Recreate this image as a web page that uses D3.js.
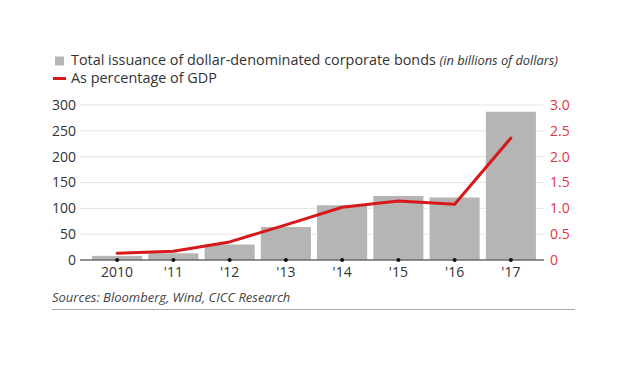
<!DOCTYPE html>
<html><head><meta charset="utf-8">
<script src="https://cdn.jsdelivr.net/npm/d3@7"></script>
<style>
html,body{margin:0;padding:0;background:#fff;}
svg{display:block;font-family:"Open Sans", Lato, sans-serif;}
</style></head>
<body>
<svg id="chart" width="640" height="378"></svg>
<script>
const categories = ["2010","'11","'12","'13","'14","'15","'16","'17"];
const issuance = [8, 13, 30, 64, 106, 124, 121, 287];
const pctGDP = [0.13, 0.17, 0.35, 0.68, 1.02, 1.14, 1.08, 2.36];
const leftTicks = [0, 50, 100, 150, 200, 250, 300];
const rightTicks = [0, 0.5, 1.0, 1.5, 2.0, 2.5, 3.0];

const svg = d3.select("#chart");
const x = d3.scaleBand().domain(categories).range([89, 539]).paddingInner(0.11).paddingOuter(0.055);
const yL = d3.scaleLinear().domain([0, 300]).range([260, 105]);
const yR = d3.scaleLinear().domain([0, 3]).range([260, 105]);

// gridlines
svg.append("g").selectAll("line").data(leftTicks.filter(d => d > 0)).join("line")
  .attr("x1", 80).attr("x2", 543)
  .attr("y1", d => yL(d)).attr("y2", d => yL(d))
  .attr("stroke", "#e3e3e3").attr("stroke-width", 1);

// bars
svg.append("g").selectAll("rect").data(categories).join("rect")
  .attr("x", d => x(d)).attr("width", x.bandwidth())
  .attr("y", (d, i) => yL(issuance[i]))
  .attr("height", (d, i) => yL(0) - yL(issuance[i]))
  .attr("fill", "#b5b5b5");

// baseline
svg.append("line").attr("x1", 80).attr("x2", 544).attr("y1", 260).attr("y2", 260)
  .attr("stroke", "#6b6b6b").attr("stroke-width", 1.3);

// tick dots
svg.append("g").selectAll("circle").data(categories).join("circle")
  .attr("cx", d => x(d) + x.bandwidth() / 2).attr("cy", 260).attr("r", 2)
  .attr("fill", "#111");

const tickFont = "'Open Sans', sans-serif";
// left axis
const leftAxis = d3.axisLeft(yL).tickValues(leftTicks).tickSize(0).tickPadding(0);
const gL = svg.append("g").attr("transform", "translate(76,0)").call(leftAxis);
gL.select(".domain").remove();
gL.selectAll("text").attr("fill", "#333").attr("font-size", 14).attr("font-family", tickFont);

// right axis
const rightAxis = d3.axisRight(yR).tickValues(rightTicks).tickSize(0).tickPadding(0)
  .tickFormat(d => d === 0 ? "0" : d3.format(".1f")(d));
const gR = svg.append("g").attr("transform", "translate(550,0)").call(rightAxis);
gR.select(".domain").remove();
gR.selectAll("text").attr("fill", "#e0353b").attr("font-size", 14).attr("font-family", tickFont);

// bottom axis labels
const bottomAxis = d3.axisBottom(x).tickSize(0).tickPadding(0);
const gB = svg.append("g").attr("transform", "translate(0,267)").call(bottomAxis);
gB.select(".domain").remove();
gB.selectAll("text").attr("fill", "#333").attr("font-size", 14).attr("font-family", tickFont);

// line
const line = d3.line()
  .x((d, i) => x(categories[i]) + x.bandwidth() / 2)
  .y(d => yR(d))
  .curve(d3.curveLinear);
svg.append("path").datum(pctGDP).attr("d", line)
  .attr("fill", "none").attr("stroke", "#d7191c").attr("stroke-width", 3)
  .attr("stroke-linejoin", "round").attr("stroke-linecap", "round");

// legend
svg.append("rect").attr("x", 55).attr("y", 56.5).attr("width", 9).attr("height", 9).attr("fill", "#b5b5b5");
const t1 = svg.append("text").attr("x", 71).attr("y", 64.5).attr("fill", "#333").attr("font-size", 14.4);
t1.append("tspan").text("Total issuance of dollar-denominated corporate bonds ");
t1.append("tspan").attr("font-style", "italic").attr("font-size", 12.8).text("(in billions of dollars)");
svg.append("line").attr("x1", 53).attr("x2", 66).attr("y1", 78.5).attr("y2", 78.5)
  .attr("stroke", "#d7191c").attr("stroke-width", 3);
svg.append("text").attr("x", 71).attr("y", 83).attr("fill", "#333").attr("font-size", 14.4)
  .text("As percentage of GDP");

// source
svg.append("text").attr("x", 52).attr("y", 302).attr("fill", "#444").attr("font-size", 13)
  .attr("font-style", "italic").text("Sources: Bloomberg, Wind, CICC Research");
svg.append("line").attr("x1", 52).attr("x2", 575).attr("y1", 309.5).attr("y2", 309.5)
  .attr("stroke", "#aaa").attr("stroke-width", 1);
</script>
</body></html>
